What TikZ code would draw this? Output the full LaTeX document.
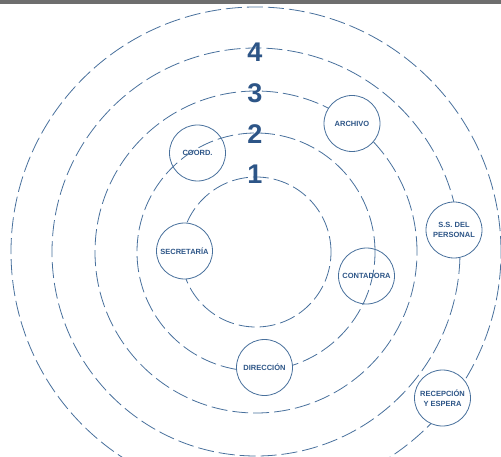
\documentclass[tikz,border=0pt]{standalone}
\usepackage{fontspec}
\setmainfont{Liberation Sans}
\definecolor{ringc}{RGB}{72,112,156}
\definecolor{txtc}{RGB}{45,85,135}
\definecolor{barc}{RGB}{110,110,110}
\begin{document}
\begin{tikzpicture}[x=1bp,y=-1bp,
 ring/.style={draw=ringc, line width=0.8bp, dash pattern=on 16bp off 5bp},
 room/.style={circle, draw=ringc, line width=0.8bp, minimum size=56bp, inner sep=0pt, align=center,
   font=\fontsize{7.5bp}{9.5bp}\selectfont\bfseries, text=txtc},
 lvl/.style={font=\fontsize{27bp}{27bp}\selectfont\bfseries, text=txtc, inner sep=0pt}]
\useasboundingbox (0,0) rectangle (501,457);
\clip (0,0) rectangle (501,457);
\fill[barc] (0,0) rectangle (501,4.5);
\coordinate (c) at (256,252);
\draw[ring] (c) circle[radius=75bp];
\draw[ring] (c) circle[radius=119bp];
\draw[ring] (c) circle[radius=161bp];
\draw[ring] (c) circle[radius=204bp];
\draw[ring] (c) circle[radius=245bp];
\node[lvl] (l4) at (255,52) {4};
\node[lvl] (l3) at (255,93) {3};
\node[lvl] (l2) at (255,134) {2};
\node[lvl] (l1) at (255,174) {1};
\node[room] (coord) at (197.5,153) {COORD.};
\node[room, fill=white] (secr) at (184.5,251) {SECRETARÍA};
\node[room, fill=white] (arch) at (352,123.5) {ARCHIVO};
\node[room, fill=white] (ss) at (454,230) {S.S. DEL\\PERSONAL};
\node[room] (cont) at (366.5,276) {CONTADORA};
\node[room, fill=white] (dir) at (264.5,367.5) {DIRECCIÓN};
\node[room, fill=white] (rec) at (442.5,398) {RECEPCIÓN\\Y ESPERA};
\end{tikzpicture}
\end{document}
